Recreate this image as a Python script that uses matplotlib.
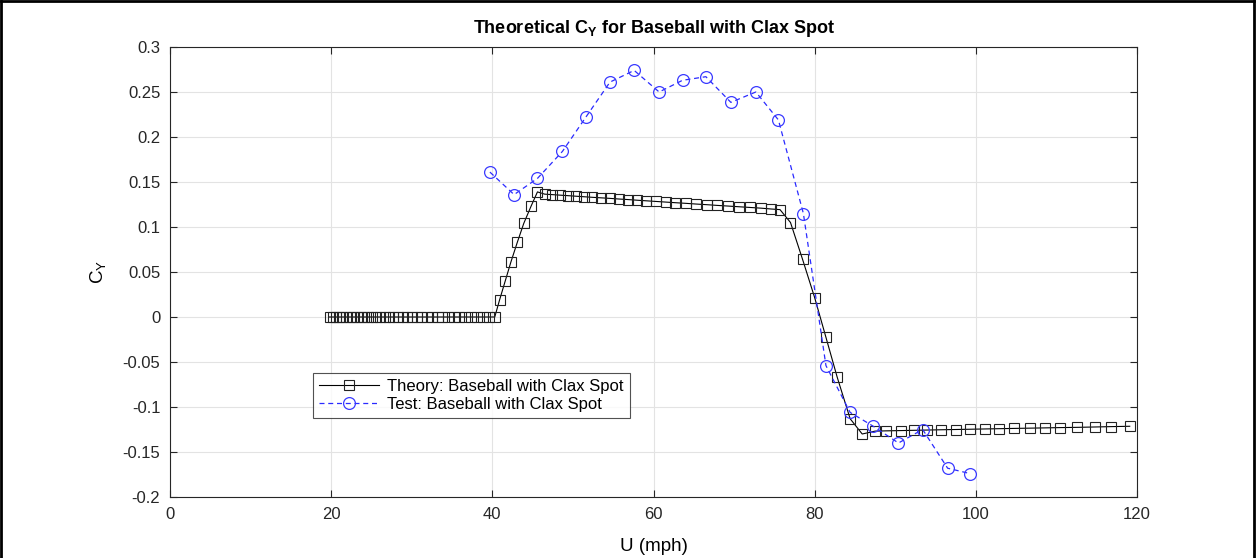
import matplotlib
matplotlib.use("Agg")
import matplotlib.pyplot as plt
from matplotlib.lines import Line2D

plt.rcParams['font.family'] = ['Liberation Sans', 'DejaVu Sans']

# Theory: Baseball with Clax Spot
theory_u = [19.8, 20.2, 20.6, 21.0, 21.4, 21.9, 22.3, 22.7, 23.2, 23.7, 24.1, 24.6,
            25.1, 25.6, 26.1, 26.7, 27.2, 27.7, 28.3, 28.9, 29.4, 30.0, 30.6, 31.2,
            31.9, 32.5, 33.2, 33.8, 34.5, 35.2, 35.9, 36.6, 37.3, 38.1, 38.8, 39.6, 40.3,
            40.9, 41.6, 42.3, 43.1, 43.9, 44.8, 45.6,
            46.5, 47.4, 48.4, 49.4, 50.4, 51.4, 52.4, 53.5, 54.6, 55.7, 56.8, 57.9,
            59.1, 60.3, 61.5, 62.7, 64.0, 65.3, 66.6, 67.9, 69.2, 70.6, 72.0, 73.4, 74.6, 75.7,
            77.0, 78.5, 80.0, 81.4, 82.8, 84.4, 85.9,
            87.5, 88.9, 90.7, 92.3, 94.0, 95.7, 97.5, 99.3, 101.1, 102.9, 104.7, 106.7,
            108.6, 110.4, 112.6, 114.8, 116.8, 119.1]
theory_cy = [0.0] * 37 + [
    0.019, 0.040, 0.061, 0.083, 0.104, 0.123, 0.139,
    0.1365, 0.1360, 0.1354, 0.1348, 0.1342, 0.1336, 0.1330, 0.1324, 0.1318, 0.1311,
    0.1305, 0.1298, 0.1291, 0.1284, 0.1277, 0.1270, 0.1263, 0.1255, 0.1248, 0.1240,
    0.1233, 0.1225, 0.1217, 0.1209, 0.1200, 0.1193,
    0.105, 0.064, 0.0215, -0.0226, -0.067, -0.113, -0.130,
    -0.1268, -0.1265, -0.1262, -0.1259, -0.1256, -0.1253, -0.1250, -0.1247, -0.1244,
    -0.1241, -0.1238, -0.1235, -0.1232, -0.1229, -0.1226, -0.1222, -0.1218, -0.1214]

# Test: Baseball with Clax Spot
test_u = [39.7, 42.7, 45.6, 48.7, 51.6, 54.6, 57.6, 60.7, 63.6, 66.5, 69.6,
          72.7, 75.5, 78.6, 81.4, 84.4, 87.2, 90.4, 93.4, 96.5, 99.3]
test_cy = [0.161, 0.136, 0.154, 0.184, 0.222, 0.261, 0.274, 0.250, 0.263, 0.267, 0.2385,
           0.250, 0.219, 0.115, -0.054, -0.106, -0.121, -0.140, -0.125, -0.168, -0.174]

x_ticks = [0, 20, 40, 60, 80, 100, 120]
y_ticks = [-0.2, -0.15, -0.1, -0.05, 0, 0.05, 0.1, 0.15, 0.2, 0.25, 0.3]
y_labels = ['-0.2', '-0.15', '-0.1', '-0.05', '0', '0.05', '0.1', '0.15', '0.2', '0.25', '0.3']

W, H = 1257, 558
fig = plt.figure(figsize=(W / 100, H / 100), dpi=100)
ax = fig.add_axes([170 / W, 1 - 497 / H, 967 / W, 450 / H])

ax.plot(theory_u, theory_cy, color='black', lw=0.8, marker='s', markersize=6.5,
        markerfacecolor='none', markeredgecolor='#222222', markeredgewidth=0.8,
        label='Theory: Baseball with Clax Spot')
ax.plot(test_u, test_cy, color='#2a2aff', lw=0.9, ls=(0, (4, 3)), marker='o', markersize=8.5,
        markerfacecolor='none', markeredgecolor='#3a3aff', markeredgewidth=0.9,
        label='Test: Baseball with Clax Spot')

ax.set_xlim(0, 120)
ax.set_ylim(-0.2, 0.3)
ax.set_xticks(x_ticks)
ax.set_yticks(y_ticks)
ax.set_yticklabels(y_labels)
ax.grid(True, color='#e3e3e3', lw=0.8)
ax.set_axisbelow(True)
for s in ax.spines.values():
    s.set_color('#262626')
    s.set_linewidth(0.8)
ax.tick_params(direction='in', top=True, right=True, length=5, width=0.8,
               colors='#262626', labelsize=12, pad=7)

ax.set_title(r'Theoretical C$_{\mathregular{Y}}$ for Baseball with Clax Spot',
             fontsize=13, fontweight='bold', pad=10)
ax.set_xlabel('U (mph)', fontsize=13.5, labelpad=12)
ax.set_ylabel(r'C$_{\mathregular{Y}}$', fontsize=13.5, labelpad=10)

leg = ax.legend(loc='lower left', bbox_to_anchor=(0.148, 0.176), fontsize=12,
                frameon=True, fancybox=False, handlelength=3.6, borderpad=0.35,
                labelspacing=0.2, handletextpad=0.5, borderaxespad=0)
leg.get_frame().set_edgecolor('#262626')
leg.get_frame().set_linewidth(0.8)

# outer frame (left, top, right)
for xs, ys in [([0.001, 0.001], [0, 0.998]), ([0.001, 0.998], [0.998, 0.998]),
               ([0.998, 0.998], [0, 0.998])]:
    fig.add_artist(Line2D(xs, ys, transform=fig.transFigure, color='black', lw=2))

fig.savefig('out.png', dpi=100)
